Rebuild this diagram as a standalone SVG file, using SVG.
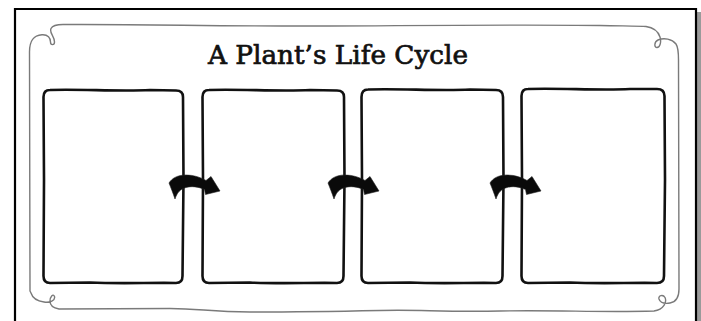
<svg xmlns="http://www.w3.org/2000/svg" xmlns:xlink="http://www.w3.org/1999/xlink" width="701" height="321" viewBox="0 0 701 321">
<style>
.frame{fill:#fff;stroke:#000;stroke-width:2.2}
.deco{fill:none;stroke:#7a7a7a;stroke-width:1.4;stroke-linecap:round;stroke-linejoin:round}
.box{fill:#fff;stroke:#111;stroke-width:2.6;stroke-linejoin:round}
.arrow{fill:#0a0a0a;stroke:#222;stroke-width:0.6}
.title{font-family:"DejaVu Serif","Liberation Serif",serif;font-size:26px;fill:#111;stroke:#111;stroke-width:0.7}
</style>
<defs>
<path id="arr" d="M169,183 C172,178 178,175 186,175 C194,175 201,177.5 206,180.5 L211,176.5 L220,191 L205.5,194.5 L204.5,189.5 C198,186.5 191,186 186,187.5 C180,189 177,193 175,199 C173,193 171,188 169,183 Z"/>
</defs>
<rect x="0" y="0" width="701" height="321" fill="#fff"/>
<rect x="697" y="12" width="4" height="309" fill="#9a9a9a"/>
<path class="frame" d="M15,330 L15,9 L696,9 L696,330"/>
<path class="deco" d="M30,291 L29.5,52 C29.5,41 33,35.5 42,34.8 C48,34.4 50.5,38 50.5,42 C50.5,45.5 54.5,45.5 54.5,42 C54.5,36 49,33 51,28.5 C52.5,25.5 56,24.5 63,24.5 C150,24 220,26.5 330,26 C430,25.5 520,24.5 600,25.5 C625,26 640,26 646,26.5 C653,27.5 658,31 660,37 C661.5,42 660,47.5 657,47.5 C654,47.5 654,42 658,40 C664,37.5 672,39 676,44 C678,47 678.5,52 678.5,60 L679,289 C679,297 676,302 670,303 C664,304 660,302 659,299 C658,295.5 663,294 665,297.5 C667,302 664,309.5 654,311 C600,312.5 560,310 500,311 C440,312 420,309.5 380,310.5 C330,311.5 300,312 250,312 C210,312 200,308.5 170,308.5 C130,309 90,309 59,309 C53,308 50,305 50,301 C50,297 53,293 54.5,296.5 C55.5,300.5 50,303 44,302 C37,301 32.5,298 31,293 Z"/>
<text class="title" x="338" y="64" text-anchor="middle" textLength="260" lengthAdjust="spacingAndGlyphs">A Plant’s Life Cycle</text>
<g id="node1"><path class="box" d="M50,90 C80,89 120,91.5 150,90 L176,90.5 Q183,90.5 183,97 L183.5,180 L182.5,276 Q182.5,283 176,283 C150,282.5 120,284 90,282.5 L50,283 Q43.5,283 43.5,276 L44,180 L43.5,97 Q43.5,90 50,90 Z"/></g>
<g id="node2"><path class="box" d="M209,90 C240,89 280,91.5 310,90 L337,90.5 Q344,90.5 344,97 L344.5,180 L343.5,276 Q343.5,283 337,283 C310,282.5 280,284 250,282.5 L209,283 Q202.5,283 202.5,276 L203,180 L202.5,97 Q202.5,90 209,90 Z"/></g>
<g id="node3"><path class="box" d="M368,89.5 C400,88.5 440,91 470,89.5 L496,90 Q503,90 503,97 L503.5,180 L502.5,276 Q502.5,283 496,283 C470,282.5 440,284 410,282.5 L368,283 Q361.5,283 361.5,276 L362,180 L361.5,97 Q361.5,89.5 368,89.5 Z"/></g>
<g id="node4"><path class="box" d="M528,89 C560,88 600,90.5 630,89 L657,89 Q664.5,89 664.5,96 L665,180 L664,276 Q664,283 657,283 C630,282.5 600,284 570,282.5 L528,283 Q521.5,283 521.5,276 L522,180 L521.5,96 Q521.5,89 528,89 Z"/></g>
<g id="connectors">
<use xlink:href="#arr" class="arrow"/>
<use xlink:href="#arr" class="arrow" transform="translate(159,0)"/>
<use xlink:href="#arr" class="arrow" transform="translate(321,0)"/>
</g>
</svg>
